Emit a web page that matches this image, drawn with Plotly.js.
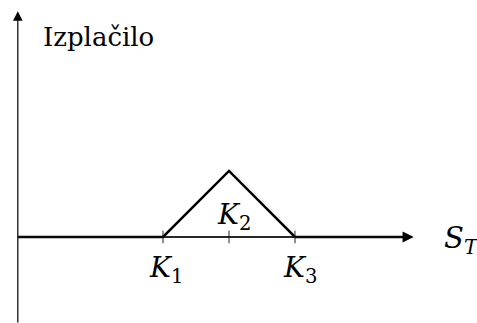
<!DOCTYPE html>
<html>
<head>
<meta charset="utf-8">
<script src="https://cdn.plot.ly/plotly-3.0.1.min.js"></script>
<style>html,body{margin:0;padding:0;background:#fff;}#chart{width:477px;height:323px;}</style>
</head>
<body>
<div id="chart"></div>
<script>
// Strike prices (K1, K2, K3) and the payoff of the butterfly spread
const strikes = [22, 32, 42];
const strikeLabels = ['<i>K</i><sub>1</sub>', '<i>K</i><sub>2</sub>', '<i>K</i><sub>3</sub>'];
const payoffX = [0, 22, 32, 42, 58.5];
const payoffY = [0, 0, 10, 0, 0];
const xLabel = '<i>S</i><sub><i>T</i></sub>';
const yLabel = 'Izplačilo';

const serif = 'DejaVu Serif, serif';

const traces = [
  {
    x: payoffX, y: payoffY, mode: 'lines', type: 'scatter',
    line: {color: '#000', width: 2.5}, hoverinfo: 'skip'
  },
  {
    x: strikes, y: strikes.map(() => 0), mode: 'markers', type: 'scatter',
    marker: {symbol: 'line-ns', size: 9, line: {color: '#222', width: 1}},
    hoverinfo: 'skip'
  }
];

const annotations = [
  // x axis arrow
  {x: 60, y: 0, ax: 0, ay: 0, xref: 'x', yref: 'y', axref: 'x', ayref: 'y',
   text: '', showarrow: true, arrowhead: 2, arrowsize: 1.6, arrowwidth: 1.4, arrowcolor: '#000'},
  // y axis arrow
  {x: 0, y: 34.2, ax: 0, ay: -13.2, xref: 'x', yref: 'y', axref: 'x', ayref: 'y',
   text: '', showarrow: true, arrowhead: 2, arrowsize: 1.6, arrowwidth: 1.2, arrowcolor: '#000'},
  {x: 64.3, y: 0, xref: 'x', yref: 'y', xanchor: 'left', yanchor: 'middle', yshift: -3,
   text: xLabel, showarrow: false, font: {family: serif, size: 29, color: '#000'}},
  {x: 3.5, y: 30.3, xref: 'x', yref: 'y', xanchor: 'left', yanchor: 'middle',
   text: yLabel, showarrow: false, font: {family: serif, size: 26, color: '#000'}}
];
const labelY = [-4.9, 3.1, -4.9];
const labelDx = [0.4, 0.8, 0.8];
strikes.forEach((k, i) => {
  annotations.push({x: k + labelDx[i], y: labelY[i], xref: 'x', yref: 'y', xanchor: 'center', yanchor: 'middle',
    text: strikeLabels[i], showarrow: false, font: {family: serif, size: 28, color: '#000'}});
});

const layout = {
  width: 477, height: 323,
  margin: {l: 0, r: 0, t: 0, b: 0},
  paper_bgcolor: '#fff', plot_bgcolor: '#fff',
  showlegend: false,
  font: {family: serif},
  xaxis: {range: [-2.7, 69.58], visible: false, fixedrange: true},
  yaxis: {range: [-13.03, 35.9], visible: false, fixedrange: true},
  shapes: [
    {type: 'line', xref: 'x', yref: 'y', x0: 0, y0: 0, x1: 58, y1: 0, line: {color: '#444', width: 1}}
  ],
  annotations: annotations
};

Plotly.newPlot('chart', traces, layout, {staticPlot: true, displayModeBar: false});
</script>
</body>
</html>
